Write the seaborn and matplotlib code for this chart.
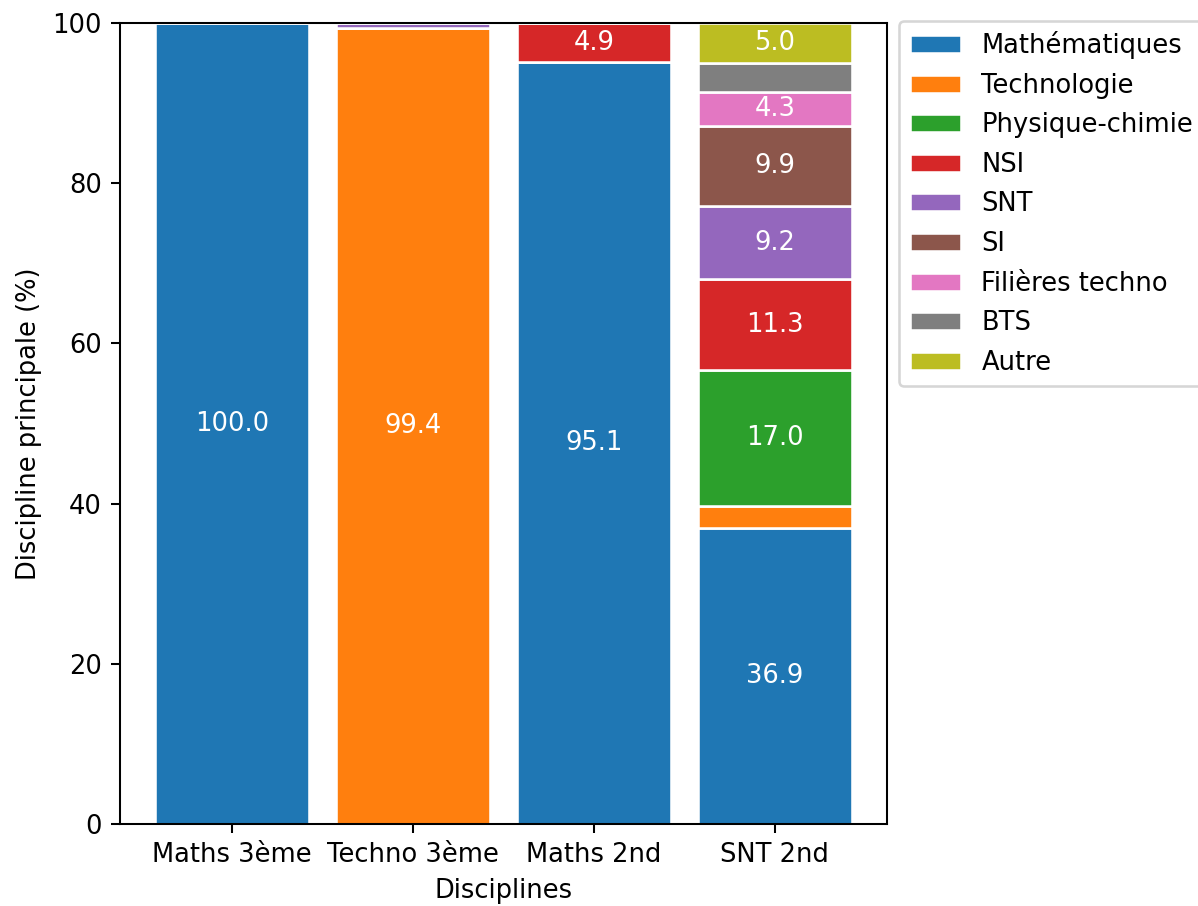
import seaborn as sns
import matplotlib.pyplot as plt
import numpy as np

# Bars (x axis)
classes = ["Maths 3ème", "Techno 3ème", "Maths 2nd", "SNT 2nd"]

# Stack layers, bottom to top (% per class)
mathematiques = [100.0, 0.0, 95.1, 36.9]
technologie = [0.0, 99.4, 0.0, 2.8]
physique_chimie = [0.0, 0.0, 0.0, 17.0]
nsi = [0.0, 0.0, 4.9, 11.3]
snt = [0.0, 0.6, 0.0, 9.2]
si = [0.0, 0.0, 0.0, 9.9]
filieres_techno = [0.0, 0.0, 0.0, 4.3]
bts = [0.0, 0.0, 0.0, 3.6]
autre = [0.0, 0.0, 0.0, 5.0]

layers = {
    "Mathématiques": mathematiques,
    "Technologie": technologie,
    "Physique-chimie": physique_chimie,
    "NSI": nsi,
    "SNT": snt,
    "SI": si,
    "Filières techno": filieres_techno,
    "BTS": bts,
    "Autre": autre,
}

colors = sns.color_palette("tab10", len(layers))
DPI = 185

fig = plt.figure(figsize=(1198 / DPI, 906 / DPI), dpi=DPI)
ax = fig.add_axes([0.1002, 0.0905, 0.6402, 0.884])

bottom = np.zeros(len(classes))
for (name, vals), col in zip(layers.items(), colors):
    vals = np.array(vals)
    sns.barplot(x=classes, y=vals, bottom=bottom, color=col, width=0.85,
                saturation=1, edgecolor="white", linewidth=1, label=name, ax=ax)
    cont = ax.containers[-1]
    labels = [f"{v:.1f}" if v >= 4 else "" for v in vals]
    ax.bar_label(cont, labels=labels, label_type="center", color="white")
    bottom += vals

ax.set_ylim(0, 100)
ax.set_xlim(-0.62, 3.62)
ax.set_xlabel("Disciplines")
ax.set_ylabel("Discipline principale (%)")
ax.legend(loc="upper left", bbox_to_anchor=(1.0, 1.0), borderaxespad=0.0,
          labelspacing=0.53)
# small nudge so the legend box sits just right of the axes
leg = ax.get_legend()
leg.set_bbox_to_anchor((1.016, 1.003), transform=ax.transAxes)

fig.savefig("out.png", dpi=DPI)
